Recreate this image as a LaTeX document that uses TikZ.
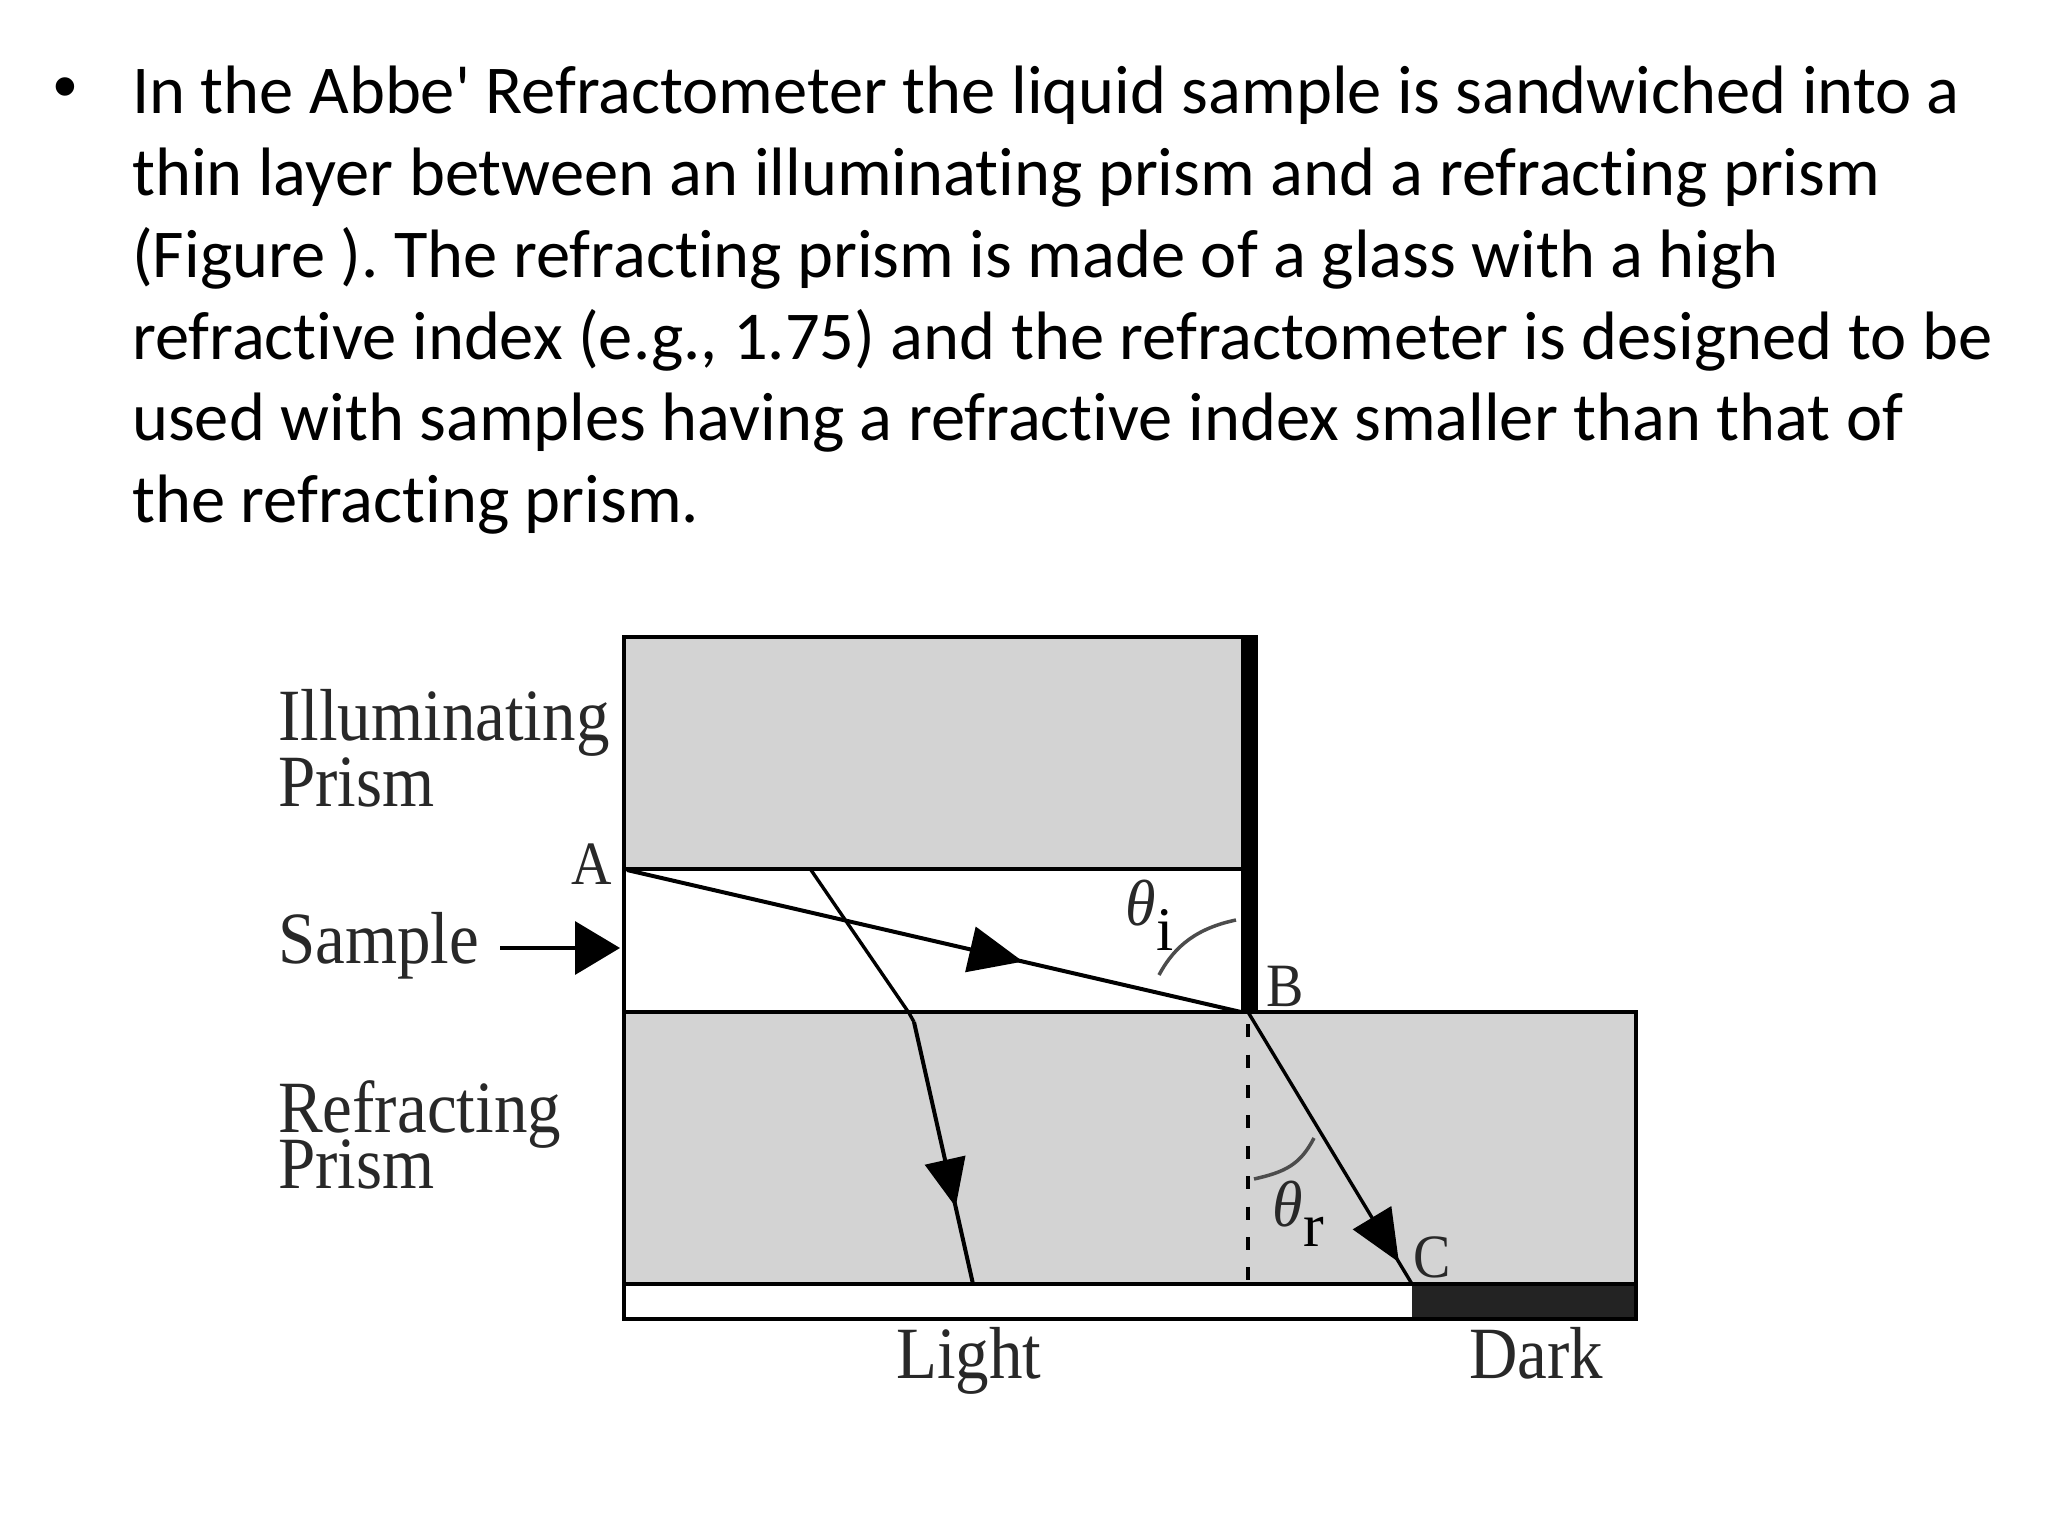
\documentclass[tikz,border=0pt]{standalone}
\usepackage{fontspec}
\setmainfont{Carlito}
\newfontfamily\bodyfont[Ligatures=NoCommon]{Carlito}
\newfontfamily\figfont{Liberation Serif}
\newfontfamily\bulfont{Liberation Sans}
\usetikzlibrary{arrows.meta,decorations.markings}
\definecolor{prismgray}{RGB}{211,211,211}
\definecolor{darkband}{RGB}{35,35,35}
\definecolor{labelink}{RGB}{40,40,40}
\frenchspacing
\tikzset{
  outline/.style={draw=black,line width=4.5pt},
  ray/.style={draw=black,line width=4pt},
  thinray/.style={draw=black,line width=3.4pt},
  anglemark/.style={draw=black!70,line width=3.5pt},
  figlabel/.style={font=\figfont\fontsize{67}{67}\selectfont,text=labelink,anchor=base west,inner sep=0pt,yscale=1.1,transform shape},
  letterlabel/.style={font=\figfont\fontsize{56}{56}\selectfont,text=labelink,anchor=base west,inner sep=0pt,yscale=1.1,transform shape},
  thetalabel/.style={font=\figfont\itshape\fontsize{62}{62}\selectfont,text=labelink,anchor=base west,inner sep=0pt,yscale=1.05,transform shape},
  sublabel/.style={font=\figfont\fontsize{62}{62}\selectfont,text=black,anchor=base west,inner sep=0pt},
  headat/.style 2 args={postaction={decorate},decoration={markings,mark=at position #1 with {\arrow{Triangle[length=#2pt,width=#2pt*0.85]}}}}
}
\begin{document}
\begin{tikzpicture}[x=1pt,y=-1pt]
\useasboundingbox (0,0) rectangle (2048,1536);
\fill[white] (0,0) rectangle (2048,1536);

% coordinates
\coordinate (A) at (627,870);
\coordinate (B) at (1241,1012);
\coordinate (Bb) at (1248,1012);
\coordinate (C) at (1412,1284);
\coordinate (S) at (811,870);
\coordinate (T) at (909,1013);
\coordinate (T2) at (914,1022);
\coordinate (U) at (973,1284);
\coordinate (Foot) at (1248,1284);
\coordinate (SampleStart) at (500,948);
\coordinate (SampleEnd) at (620,948);

% prisms
\fill[prismgray] (624,637) rectangle (1241,869);
\fill[white] (624,869) rectangle (1241,1012);
\fill[prismgray] (624,1012) rectangle (1636,1284);
\fill[white] (624,1284) rectangle (1412,1319);
\fill[darkband] (1412,1284) rectangle (1636,1319);
\draw[outline] (1241,637) -- (624,637) -- (624,1319) -- (1636,1319) -- (1636,1012) -- (624,1012);
\draw[outline] (624,869) -- (1241,869);
\draw[outline] (624,1284) -- (1636,1284);
\fill[black] (1241,635) rectangle (1258,1012);

% rays
\draw[ray,headat={0.645}{54}] (A) -- (B);
\draw[thinray] (S) -- (T) -- (T2);
\draw[ray,headat={0.706}{48}] (T2) -- (U);
\draw[thinray,headat={0.92}{52}] (Bb) -- (C);
\draw[draw=black,line width=4pt,dash pattern=on 13pt off 17.4pt,dash phase=18.2pt] (Bb) -- (Foot);
\draw[draw=black,line width=3.5pt,-{Triangle[length=45pt,width=53pt]}] (SampleStart) -- (SampleEnd);

% angle arcs
\draw[anglemark] (1236,920) .. controls (1198,928) and (1175,945) .. (1159,975);
\draw[anglemark] (1314,1138) .. controls (1300,1165) and (1285,1172) .. (1254,1179);

% figure labels
\node[figlabel] (illum) at (278,740) {Illuminating};
\node[figlabel] (prismA) at (278,806) {Prism};
\node[figlabel] (sample) at (278,963) {Sample};
\node[figlabel] (refr) at (278,1132) {Refracting};
\node[figlabel] (prismB) at (278,1188) {Prism};
\node[figlabel] (light) at (896,1378) {Light};
\node[figlabel] (dark) at (1469,1378) {Dark};
\node[letterlabel] (la) at (571,884) {A};
\node[letterlabel] (lb) at (1266,1006) {B};
\node[letterlabel] (lc) at (1413,1277) {C};
\node[thetalabel] (ti) at (1125,925) {θ};
\node[sublabel] (si) at (1156,950) {i};
\node[thetalabel] (tr) at (1272,1226) {θ};
\node[sublabel] (sr) at (1303,1246) {r};

% text
\node[font=\bulfont\fontsize{68}{68}\selectfont,anchor=base west,inner sep=0pt] (bullet) at (53,110) {•};
\node[font=\bodyfont\fontsize{68.5}{81.8}\selectfont,anchor=north west,align=left,inner sep=0pt] (body) at (132,66) {In the Abbe' Refractometer the liquid sample is sandwiched into a\\
thin layer between an illuminating prism and a refracting prism\\
(Figure ). The refracting prism is made of a glass with a high\\
refractive index (e.g., 1.75) and the refractometer is designed to be\\
used with samples having a refractive index smaller than that of\\
the refracting prism.};
\end{tikzpicture}
\end{document}
